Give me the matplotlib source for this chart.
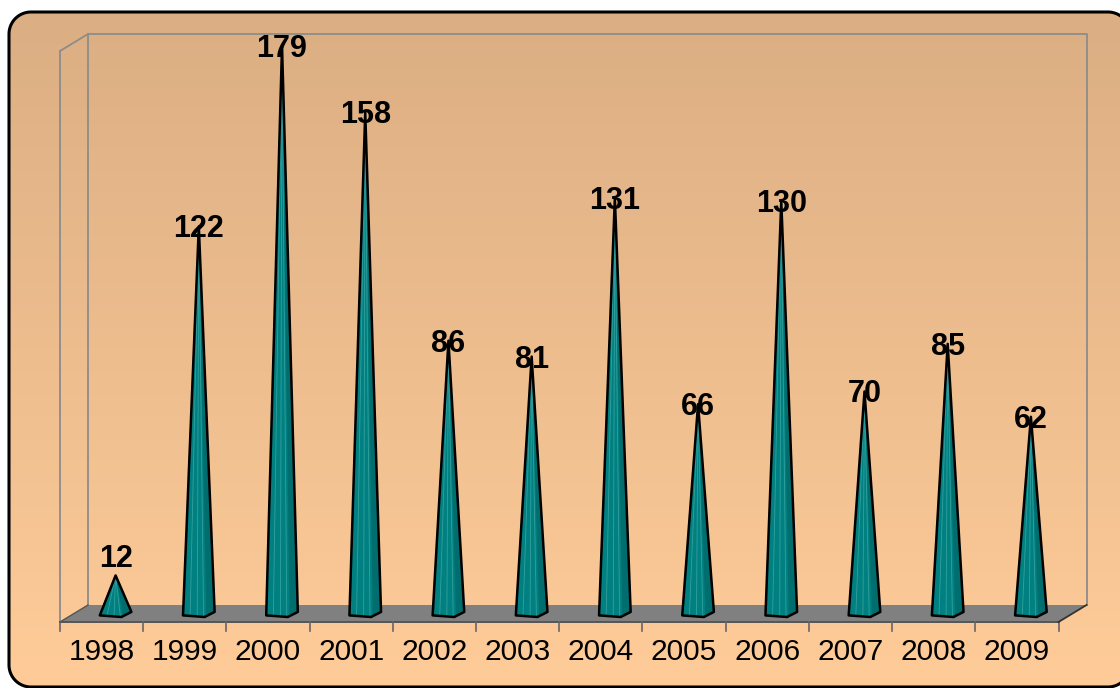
import numpy as np
import matplotlib
matplotlib.use("Agg")
import matplotlib.pyplot as plt
from matplotlib.patches import Polygon
from matplotlib.transforms import ScaledTranslation

years = ["1998", "1999", "2000", "2001", "2002", "2003",
         "2004", "2005", "2006", "2007", "2008", "2009"]
counts = [12, 122, 179, 158, 86, 81, 131, 66, 130, 70, 85, 62]

plt.rcParams['font.family'] = ['Liberation Sans', 'DejaVu Sans']

W, H, DPI = 1120, 688, 100
fig = plt.figure(figsize=(W / DPI, H / DPI), dpi=DPI, facecolor='white')


def rounded_rect(x0, y0, x1, y1, r, n=24):
    # outline built from straight segments so it clips cleanly at the canvas edge
    pts = []
    for cx, cy, a0 in [(x1 - r, y1 - r, 0), (x0 + r, y1 - r, 90),
                       (x0 + r, y0 + r, 180), (x1 - r, y0 + r, 270)]:
        a = np.radians(np.linspace(a0, a0 + 90, n))
        pts.append(np.column_stack([cx + r * np.cos(a), cy + r * np.sin(a)]))
    return np.vstack(pts)


# rounded panel with a vertical tan-to-peach gradient
bg = fig.add_axes([0, 0, 1, 1])
bg.axis('off')
top_col = np.array([219, 174, 131]) / 255
bot_col = np.array([255, 204, 153]) / 255
t = np.linspace(0, 1, 256)[:, None]
grad = (1 - t) * top_col + t * bot_col
grad = np.repeat(grad[:, None, :], 2, axis=1)
panel = Polygon(rounded_rect(9, 1, 1130, 676, 22), closed=True, facecolor='none',
                edgecolor='black', linewidth=2.2, zorder=3)
bg.add_patch(panel)
img = bg.imshow(grad, extent=(9, 1130, 1, 676), aspect='auto', zorder=1)
img.set_clip_path(panel)
bg.set_xlim(0, W)
bg.set_ylim(0, H)

# plot area sits on the middle depth plane of the 3-D box
ax = fig.add_axes([74 / W, (H - 613.5) / H, 998.5 / W, 571 / H])
ax.set_xlim(-0.5, len(years) - 0.5)
ax.set_ylim(0, 180)
ax.axis('off')
ax.patch.set_alpha(0)


def shifted(dx, dy):
    return ax.transData + ScaledTranslation(dx / DPI, dy / DPI, fig.dpi_scale_trans)


back = shifted(14, 8.5)
front = shifted(-14, -8.5)
x0, x1 = -0.5, len(years) - 0.5
y1 = 180
wall = '#8c8c8c'

# back wall and left side wall
ax.plot([x0, x0, x1, x1], [0, y1, y1, 0], color=wall, lw=1.3, transform=back, clip_on=False)
ax.plot([x0, x0], [0, y1], color=wall, lw=1.3, transform=front, clip_on=False)
lt = front.transform([(x0, y1)])[0]
lb = back.transform([(x0, y1)])[0]
fig.lines.append(plt.Line2D([lt[0] / W, lb[0] / W], [lt[1] / H, lb[1] / H],
                            color=wall, lw=1.3, transform=fig.transFigure))

# grey floor
fb = back.transform([(x0, 0), (x1, 0)])
ff = front.transform([(x1, 0), (x0, 0)])
floor = Polygon(np.vstack([fb, ff]), closed=True, facecolor='#808080',
                edgecolor='none', transform=None, zorder=1, clip_on=False)
ax.add_artist(floor)
fig.lines.append(plt.Line2D([fb[1][0] / W, ff[0][0] / W], [fb[1][1] / H, ff[0][1] / H],
                            color='#333333', lw=1.3, transform=fig.transFigure, zorder=2))
fig.lines.append(plt.Line2D([fb[0][0] / W, ff[1][0] / W], [fb[0][1] / H, ff[1][1] / H],
                            color='#555555', lw=1.0, transform=fig.transFigure, zorder=2))
ax.plot([x0, x1], [0, 0], color='#555555', lw=1.4, transform=front, clip_on=False, zorder=2)

# category ticks and labels on the front edge
for k in range(len(years) + 1):
    ax.plot([k - 0.5, k - 0.5], [0, -2.8], color='#666666', lw=1.2,
            transform=front, clip_on=False, zorder=2)
for i, yr in enumerate(years):
    ax.text(i, 0, yr, transform=shifted(-14, -39), ha='center', va='center',
            fontsize=21.5, color='black')

# cones
half = 0.19
teal = '#008080'
for i, v in enumerate(counts):
    left = (i - half, -0.6)
    bottom = (i + 0.07, -1.1)
    right = (i + half, 0.5)
    apex = (i, v)
    ax.add_patch(Polygon([apex, left, bottom, right], closed=True, facecolor=teal,
                         edgecolor='none', zorder=4, clip_on=False))
    ax.add_patch(Polygon([apex, (i + 0.09, -1.0), right], closed=True, facecolor='#006e6e',
                         edgecolor='none', zorder=4, clip_on=False))
    for f in (-0.55, -0.1, 0.3):
        ax.plot([i, i + f * half], [v, -0.8], color='#3fa9a6', lw=0.6,
                alpha=0.8, zorder=5, clip_on=False)
    ax.add_patch(Polygon([apex, left, bottom, right], closed=True, facecolor='none',
                         edgecolor='black', lw=1.8, joinstyle='round', zorder=6, clip_on=False))
    # keep the short label clear of its cone
    ax.text(i, max(v, 18), str(v), ha='center', va='center', fontsize=22,
            fontweight='bold', color='black', zorder=7,
            transform=shifted(0, -3))

fig.savefig('out.png', dpi=DPI, facecolor='white')
